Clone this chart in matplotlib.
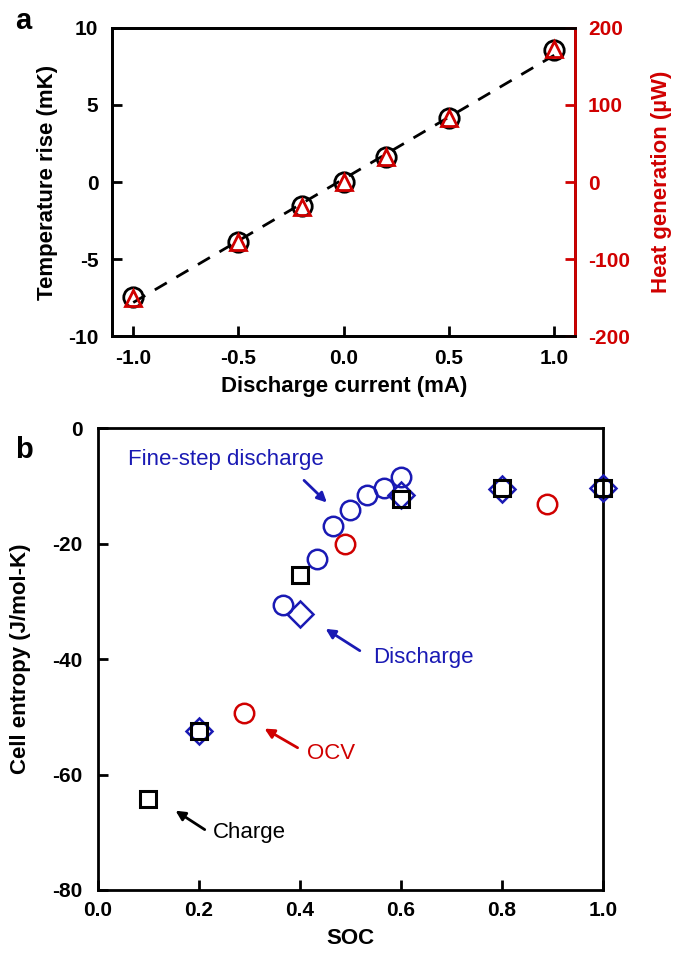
import numpy as np
import matplotlib
matplotlib.use("Agg")
import matplotlib.pyplot as plt

plt.rcParams["font.family"] = ["Liberation Sans", "DejaVu Sans"]

# panel a
current = [-1.0, -0.5, -0.2, 0.0, 0.2, 0.5, 1.0]
temp_rise = [-7.45, -3.9, -1.56, 0.0, 1.62, 4.15, 8.57]
heat_gen = [-151, -78, -32, 0, 33, 83, 173]

# panel b
fine_soc = [0.367, 0.433, 0.466, 0.499, 0.532, 0.566, 0.600]
fine_s = [-30.6, -22.7, -17.0, -14.1, -11.5, -10.3, -8.4]
ocv_soc = [0.29, 0.489, 0.888]
ocv_s = [-49.3, -20.1, -13.2]
chg_soc = [0.1, 0.2, 0.4, 0.6, 0.8, 1.0]
chg_s = [-64.3, -52.4, -25.5, -12.2, -10.4, -10.3]
dis_soc = [0.2, 0.4, 0.6, 0.8, 1.0]
dis_s = [-52.4, -32.1, -11.6, -10.6, -10.3]

RED = "#d00000"
BLUE = "#1a1ab4"
fs = 16
tfs = 15

fig = plt.figure(figsize=(6.8, 9.58), dpi=100)

# ---- a ----
ax = fig.add_axes([0.165, 0.649, 0.681, 0.322])
ax2 = ax.twinx()
fit = np.polyfit(current, temp_rise, 1)
xf = np.array([current[0], current[-1]])
ax.plot(xf, np.polyval(fit, xf), ls=(0, (5, 4)), color="k", lw=2, zorder=1)
ax.plot(current, temp_rise, "o", mfc="none", mec="k", ms=14, mew=2, zorder=3)
ax2.plot(current, heat_gen, "^", mfc="none", mec=RED, ms=12, mew=2, zorder=3)
ax.set_xlim(-1.1, 1.1)
ax.set_ylim(-10, 10)
ax2.set_ylim(-200, 200)
ax.set_xticks([-1.0, -0.5, 0.0, 0.5, 1.0])
ax.set_xticklabels(["-1.0", "-0.5", "0.0", "0.5", "1.0"])
ax.set_yticks([-10, -5, 0, 5, 10])
ax.set_yticklabels(["-10", "-5", "0", "5", "10"])
ax2.set_yticks([-200, -100, 0, 100, 200])
ax2.set_yticklabels(["-200", "-100", "0", "100", "200"])
ax.set_xlabel("Discharge current (mA)", fontsize=fs, fontweight="bold")
ax.set_ylabel("Temperature rise (mK)", fontsize=fs, fontweight="bold")
ax2.set_ylabel("Heat generation (\u00b5W)", fontsize=fs, fontweight="bold", color=RED)
ax.xaxis.set_label_coords(0.5, -0.128)
ax.yaxis.set_label_coords(-0.117, 0.5)
ax2.yaxis.set_label_coords(1.164, 0.5)
for a in (ax, ax2):
    for s in a.spines.values():
        s.set_linewidth(2)
ax2.spines["right"].set_color(RED)
ax.tick_params(axis="x", direction="in", length=7, width=2, labelsize=tfs, pad=9, top=False)
ax.tick_params(axis="y", direction="in", length=7, width=2, labelsize=tfs, pad=10, right=False)
ax2.tick_params(direction="in", length=7, width=2, labelsize=tfs, pad=9, colors=RED)
for lab in ax.get_xticklabels() + ax.get_yticklabels() + ax2.get_yticklabels():
    lab.set_fontweight("bold")

# ---- b ----
bx = fig.add_axes([0.144, 0.071, 0.743, 0.482])
bx.plot(dis_soc, dis_s, "D", mfc="none", mec=BLUE, ms=13, mew=1.8, clip_on=False, zorder=3)
bx.plot(chg_soc, chg_s, "s", mfc="none", mec="k", ms=11, mew=2.2, clip_on=False, zorder=4)
bx.plot(fine_soc, fine_s, "o", mfc="none", mec=BLUE, ms=14, mew=1.8, zorder=3)
bx.plot(ocv_soc, ocv_s, "o", mfc="none", mec=RED, ms=14, mew=1.8, zorder=3)
bx.set_xlim(0, 1.0)
bx.set_ylim(-80, 0)
bx.set_xticks([0.0, 0.2, 0.4, 0.6, 0.8, 1.0])
bx.set_xticklabels(["0.0", "0.2", "0.4", "0.6", "0.8", "1.0"])
bx.set_yticks([-80, -60, -40, -20, 0])
bx.set_yticklabels(["-80", "-60", "-40", "-20", "0"])
bx.set_xlabel("SOC", fontsize=fs, fontweight="bold")
bx.set_ylabel("Cell entropy (J/mol-K)", fontsize=fs, fontweight="bold")
bx.xaxis.set_label_coords(0.5, -0.083)
bx.yaxis.set_label_coords(-0.133, 0.5)
for s in bx.spines.values():
    s.set_linewidth(2)
bx.tick_params(axis="x", direction="in", length=7, width=2, labelsize=tfs, pad=8)
bx.tick_params(axis="y", direction="in", length=7, width=2, labelsize=tfs, pad=11)
for lab in bx.get_xticklabels() + bx.get_yticklabels():
    lab.set_fontweight("bold")

afs = 16
arr = dict(arrowstyle="-|>", lw=2, mutation_scale=14)
bx.annotate("", xy=(0.457, -13.2), xytext=(0.404, -8.7), arrowprops=dict(color=BLUE, **arr))
bx.text(0.059, -5.4, "Fine-step discharge", color=BLUE, fontsize=afs, va="center")
bx.annotate("", xy=(0.446, -34.5), xytext=(0.523, -38.8), arrowprops=dict(color=BLUE, **arr))
bx.text(0.545, -39.7, "Discharge", color=BLUE, fontsize=afs, va="center")
bx.annotate("", xy=(0.325, -51.8), xytext=(0.40, -55.6), arrowprops=dict(color=RED, **arr))
bx.text(0.414, -56.3, "OCV", color=RED, fontsize=afs, va="center")
bx.annotate("", xy=(0.149, -66.0), xytext=(0.216, -69.8), arrowprops=dict(color="k", **arr))
bx.text(0.228, -70.1, "Charge", color="k", fontsize=afs, va="center")

fig.text(0.022, 1 - 21 / 958, "a", fontsize=21, fontweight="bold", va="center")
fig.text(0.022, 1 - 450 / 958, "b", fontsize=21, fontweight="bold", va="center")

fig.savefig("out.png", dpi=100)
